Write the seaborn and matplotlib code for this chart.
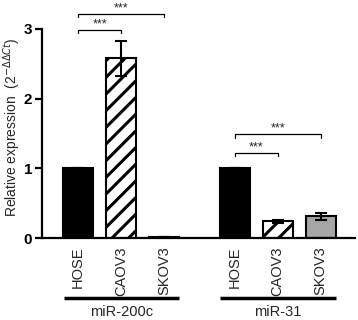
import matplotlib
matplotlib.use('Agg')
import matplotlib.pyplot as plt
import matplotlib.transforms as mtransforms
import pandas as pd
import numpy as np
import seaborn as sns

# data
cells = ["HOSE", "CAOV3", "SKOV3"]
genes = ["miR-200c", "miR-31"]
mir200c_mean = [1.0, 2.58, 0.01]
mir200c_err = [0.0, 0.25, 0.0]
mir31_mean = [1.0, 0.24, 0.31]
mir31_err = [0.0, 0.02, 0.05]
group_offset = 3.64
sig_labels = ["***", "***", "***", "***"]

sns.set_theme(style="ticks")
plt.rcParams['font.family'] = ['Liberation Sans', 'DejaVu Sans']
plt.rcParams['hatch.linewidth'] = 2.2  # must be set before the bars are made

pos = [i for i in range(3)] + [group_offset + i for i in range(3)]
df = pd.DataFrame({
    "pos": pos,
    "value": mir200c_mean + mir31_mean,
    "err": mir200c_err + mir31_err,
    "cell": cells * 2,
})

fig = plt.figure(figsize=(3.58, 3.2), dpi=100)
ax = fig.add_axes([42 / 358, 82 / 320, (355 - 42) / 358, (238 - 8) / 320])

sns.barplot(data=df, x="pos", y="value", native_scale=True, width=0.7,
            errorbar=None, ax=ax, color="black")

face = {"HOSE": "black", "CAOV3": "white", "SKOV3": "white"}
face31 = {"HOSE": "black", "CAOV3": "white", "SKOV3": "#a6a6a6"}
for i, p in enumerate(ax.patches):
    c = df["cell"][i]
    fc = face[c] if i < 3 else face31[c]
    p.set_facecolor(fc)
    p.set_edgecolor("black")
    p.set_linewidth(1.5)
    if c == "CAOV3":
        p.set_hatch("//")

ax.errorbar(df["pos"], df["value"], yerr=df["err"], fmt="none",
            ecolor="black", elinewidth=1.5, capsize=4, capthick=1.5)

ax.set_xlim(-0.84, 6.44)
ax.set_ylim(0, 3.30)
ax.set_yticks([0, 1, 2, 3])
ax.set_yticklabels(["0", "1", "2", "3"], fontweight="bold", fontsize=11)
ax.spines["left"].set_bounds(0, 3)
ax.spines["top"].set_visible(False)
ax.spines["right"].set_visible(False)
for s in ["left", "bottom"]:
    ax.spines[s].set_linewidth(1.6)
    ax.spines[s].set_color("black")
ax.tick_params(axis="y", length=5, width=1.6, pad=2, colors="black")
ax.tick_params(axis="x", length=0, pad=6)
ax.set_xticks(df["pos"])
ax.set_xticklabels(df["cell"], rotation=90, fontsize=10.5)
ax.set_xlabel("")
ax.set_ylabel(r"Relative expression  (2$^{-\Delta\Delta Ct}$)", fontsize=10)
ax.yaxis.set_label_coords(-0.06, 0.48)

# significance brackets
def bracket(x1, x2, y, label):
    h = 0.05
    ax.plot([x1, x1, x2, x2], [y - h, y, y, y - h], color="black", lw=0.9, clip_on=False)
    ax.text((x1 + x2) / 2, y - 0.01, label, ha="center", va="bottom", fontsize=9, clip_on=False)

bracket(pos[0], pos[1], 2.99, sig_labels[0])
bracket(pos[0], pos[2], 3.22, sig_labels[1])
bracket(pos[3], pos[4], 1.22, sig_labels[2])
bracket(pos[3], pos[5], 1.49, sig_labels[3])

# group labels under the ticks
trans = mtransforms.blended_transform_factory(ax.transData, ax.transAxes)
for g, start in zip(genes, [0, group_offset]):
    ax.plot([start - 0.33, start + 2.35], [-0.262, -0.262], color="black", lw=2.5,
            transform=trans, clip_on=False, solid_capstyle="butt")
    ax.text(start + 1, -0.29, g, ha="center", va="top", fontsize=10.5, transform=trans)

plt.savefig("out.png", dpi=100)
plt.close()
